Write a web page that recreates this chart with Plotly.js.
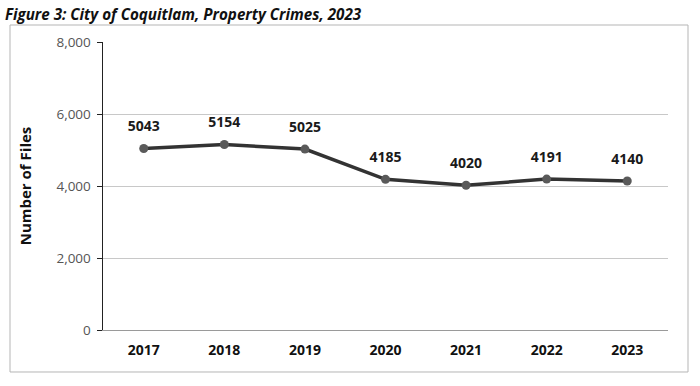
<!DOCTYPE html>
<html>
<head>
<meta charset="utf-8">
<script src="https://cdn.plot.ly/plotly-3.0.1.min.js"></script>
<style>html,body{margin:0;padding:0;background:#fff;}#chart{width:700px;height:386px;}</style>
</head>
<body>
<div id="chart"></div>
<script>
const years = ['2017','2018','2019','2020','2021','2022','2023'];
const files = [5043, 5154, 5025, 4185, 4020, 4191, 4140];
const yTicks = [0, 2000, 4000, 6000, 8000];

const lineTrace = {
  x: years,
  y: files,
  type: 'scatter',
  mode: 'lines+markers',
  line: {color: '#333', width: 3.5},
  marker: {color: '#5a5a5a', size: 9},
  cliponaxis: false,
  hoverinfo: 'skip'
};
const labelTrace = {
  x: years,
  y: files,
  type: 'scatter',
  mode: 'markers+text',
  text: files.map(String),
  textposition: 'top center',
  textfont: {family: 'Open Sans, sans-serif', size: 14, color: '#1a1a1a', weight: 'bold'},
  marker: {color: 'rgba(0,0,0,0)', size: 20},
  cliponaxis: false,
  hoverinfo: 'skip'
};

const layout = {
  width: 700, height: 386,
  margin: {l: 103, r: 32, t: 42, b: 56},
  paper_bgcolor: '#fff', plot_bgcolor: '#fff',
  showlegend: false,
  title: {
    text: '<b><i>Figure 3: City of Coquitlam, Property Crimes, 2023</i></b>',
    x: 0.007, xanchor: 'left', xref: 'container',
    y: 0.963, yanchor: 'middle', yref: 'container',
    font: {family: 'Open Sans, sans-serif', size: 15.2, color: '#111'}
  },
  xaxis: {
    type: 'category',
    tickfont: {family: 'Open Sans, sans-serif', size: 14, color: '#111', weight: 'bold'},
    showgrid: false, zeroline: false,
    showline: true, linecolor: '#9a9a9a', linewidth: 1,
    ticks: 'outside', ticklen: 7, tickcolor: 'rgba(0,0,0,0)',
    fixedrange: true
  },
  yaxis: {
    range: [0, 8000],
    tickvals: yTicks,
    tickformat: ',',
    tickfont: {family: 'Open Sans, sans-serif', size: 13.5, color: '#555'},
    ticklabelstandoff: 3,
    showgrid: true, gridcolor: '#c8c8c8', gridwidth: 1,
    zeroline: false,
    showline: true, linecolor: '#222', linewidth: 1.5,
    ticks: 'outside', ticklen: 5, tickcolor: '#222',
    title: {text: '<b>Number of Files</b>', standoff: 21,
      font: {family: 'Open Sans, sans-serif', size: 15, color: '#111'}},
    fixedrange: true
  },
  shapes: [{
    type: 'rect', xref: 'paper', yref: 'paper',
    x0: -0.1646, x1: 1.0354, y0: -0.1458, y1: 1.059,
    line: {color: '#b5b5b5', width: 1}, fillcolor: 'rgba(0,0,0,0)', layer: 'below'
  }]
};

Plotly.newPlot('chart', [lineTrace, labelTrace], layout, {displayModeBar: false, staticPlot: true});
</script>
</body>
</html>
